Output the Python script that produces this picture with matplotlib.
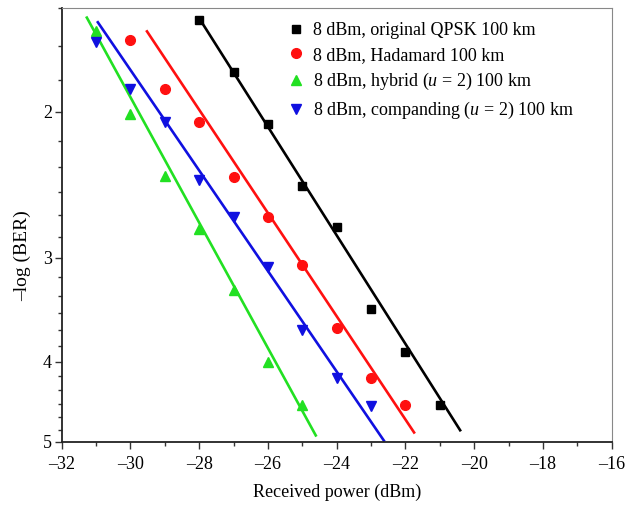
import numpy as np
import matplotlib
matplotlib.use("Agg")
import matplotlib.pyplot as plt
from matplotlib.ticker import FixedLocator, NullFormatter, FixedFormatter

plt.rcParams['font.family'] = ['Liberation Serif', 'DejaVu Serif']
plt.rcParams['mathtext.fontset'] = 'custom'
plt.rcParams['mathtext.it'] = 'Liberation Serif:italic'
plt.rcParams['mathtext.rm'] = 'Liberation Serif'

# measured points, -log(BER) vs received power
qpsk_x = [-28, -27, -26, -25, -24, -23, -22, -21]
qpsk_y = [1.55, 1.79, 2.07, 2.46, 2.75, 3.46, 3.90, 4.51]
had_x = [-30, -29, -28, -27, -26, -25, -24, -23, -22]
had_y = [1.64, 1.88, 2.06, 2.40, 2.68, 3.06, 3.64, 4.19, 4.51]
hyb_x = [-31, -30, -29, -28, -27, -26, -25]
hyb_y = [1.60, 2.01, 2.39, 2.77, 3.28, 4.01, 4.51]
comp_x = [-31, -30, -29, -28, -27, -26, -25, -24, -23]
comp_y = [1.65, 1.88, 2.06, 2.42, 2.68, 3.08, 3.66, 4.19, 4.52]

# fitted lines (end points)
qpsk_fx, qpsk_fy = [-27.97, -20.41], [1.55, 4.84]
had_fx, had_fy = [-29.52, -21.75], [1.60, 4.87]
hyb_fx, hyb_fy = [-31.27, -24.61], [1.54, 4.91]
comp_fx, comp_fy = [-30.95, -22.63], [1.56, 4.98]

labels = ["8 dBm, original QPSK 100 km",
          "8 dBm, Hadamard 100 km",
          "8 dBm, hybrid ($u$ = 2) 100 km",
          "8 dBm, companding ($u$ = 2) 100 km"]

fig = plt.figure(figsize=(6.3, 5.08), dpi=100)
ax = fig.add_axes([0.098, 0.130, 0.873, 0.854])

series = [
    (qpsk_x, qpsk_y, qpsk_fx, qpsk_fy, "black", "s", 6),
    (had_x, had_y, had_fx, had_fy, "#ff1010", "o", 7),
    (hyb_x, hyb_y, hyb_fx, hyb_fy, "#22e022", "^", 7.5),
    (comp_x, comp_y, comp_fx, comp_fy, "#1010e0", "v", 7.5),
]
for (x, y, fx, fy, c, m, ms), lab in zip(series, labels):
    # fit line is straight on the log axis
    fxs = np.linspace(fx[0], fx[1], 50)
    fys = np.exp(np.interp(fxs, fx, np.log(fy)))
    ax.plot(fxs, fys, color=c, lw=1.9, zorder=2)
    ax.plot(x, y, ls="none", marker=m, ms=ms, color=c, label=lab, zorder=3)

ax.set_yscale("log")
ax.set_ylim(5, 1.5)
ax.set_xlim(-32, -16)
ax.yaxis.set_major_locator(FixedLocator([2, 3, 4, 5]))
ax.yaxis.set_major_formatter(FixedFormatter(["2", "3", "4", "5"]))
ax.yaxis.set_minor_locator(FixedLocator([k / 6 for k in range(9, 31) if k % 6]))
ax.yaxis.set_minor_formatter(NullFormatter())
ax.set_xticks(np.arange(-32, -15, 2))
ax.set_xticklabels([f"\u2013{abs(v)}" for v in range(-32, -15, 2)])
ax.set_xticks(np.arange(-31, -16, 2), minor=True)

ax.tick_params(which="major", direction="out", length=5, width=1, labelsize=13, color="#333333")
ax.tick_params(which="minor", direction="out", length=3, width=1, color="#333333")
ax.tick_params(axis="y", pad=2)
ax.tick_params(axis="x", pad=5)
for s in ("left", "bottom"):
    ax.spines[s].set_linewidth(1.3)
    ax.spines[s].set_color("#222222")
for s in ("top", "right"):
    ax.spines[s].set_linewidth(0.8)
    ax.spines[s].set_color("#888888")

ax.set_xlabel("Received power (dBm)", fontsize=13)
ax.xaxis.set_label_coords(0.5, -0.097)
ax.set_ylabel("\u2013log (BER)", fontsize=14)
ax.yaxis.set_label_coords(-0.055, 0.43)

ax.legend(loc="upper left", bbox_to_anchor=(0.41, 0.968), frameon=False,
          fontsize=13, handletextpad=0.45, labelspacing=0.42,
          handlelength=1.0, borderaxespad=0, borderpad=0)

fig.savefig("out.png", dpi=100)
